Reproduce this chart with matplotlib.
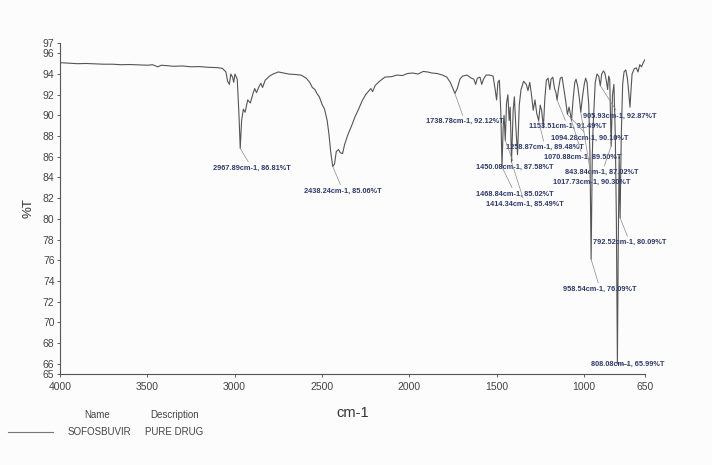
import matplotlib
matplotlib.use("Agg")
import matplotlib.pyplot as plt

plt.rcParams['font.family'] = ['Liberation Sans', 'DejaVu Sans']

# FTIR spectrum of the sample: wavenumber (cm-1) and transmittance (%T)
wavenumber = [
    4000, 3950, 3900, 3850, 3800, 3750, 3700, 3650, 3600, 3550, 3500, 3470, 3440, 3420,
    3380, 3350, 3300, 3250, 3200, 3150, 3100, 3070, 3050, 3040, 3030, 3022, 3012, 3005,
    2998, 2985, 2975, 2967.89, 2960, 2950, 2940, 2925, 2910, 2895, 2885, 2875, 2860, 2850,
    2840, 2825, 2800, 2780, 2750, 2720, 2690, 2650, 2620, 2590, 2570, 2555, 2540, 2528,
    2515, 2500, 2485, 2470, 2460, 2450, 2438.24, 2428, 2418, 2405, 2395, 2382, 2370, 2350,
    2330, 2310, 2290, 2270, 2250, 2235, 2220, 2210, 2195, 2170, 2140, 2100, 2070, 2040,
    2010, 1980, 1950, 1920, 1895, 1870, 1840, 1810, 1785, 1765, 1750, 1738.78, 1725, 1710,
    1695, 1670, 1645, 1630, 1620, 1610, 1595, 1585, 1575, 1560, 1540, 1520, 1508, 1500,
    1492, 1484, 1476, 1468.84, 1462, 1457, 1450.08, 1443, 1435, 1428, 1422, 1414.34, 1405,
    1398, 1390, 1380, 1370, 1360, 1345, 1330, 1320, 1310, 1300, 1290, 1280, 1270, 1258.87,
    1250, 1242, 1232, 1224, 1215, 1205, 1195, 1188, 1178, 1168, 1160, 1153.51, 1145, 1135,
    1125, 1115, 1105, 1094.28, 1085, 1078, 1070.88, 1062, 1052, 1045, 1035, 1025, 1017.73,
    1008, 998, 990, 982, 972, 965, 958.54, 952, 947, 935, 925, 915, 905.93, 898, 888, 880,
    870, 864, 858, 852, 843.84, 836, 828, 820, 814, 808.08, 803, 798, 792.52, 786, 778,
    770, 760, 750, 742, 736, 730, 724, 712, 700, 690, 680, 670, 660, 650,
]
transmittance = [
    95.10, 95.05, 95.00, 95.02, 94.98, 94.95, 94.95, 94.90, 94.92, 94.88, 94.85, 94.90, 94.70, 94.85,
    94.80, 94.75, 94.78, 94.70, 94.72, 94.65, 94.62, 94.55, 94.20, 93.30, 93.00, 94.00, 93.70, 93.20,
    94.00, 93.50, 90.00, 86.81, 89.50, 90.60, 90.30, 91.50, 91.20, 92.10, 92.60, 92.20, 92.80, 93.10,
    92.70, 93.40, 93.80, 94.00, 94.20, 94.10, 94.00, 93.95, 93.90, 93.60, 93.20, 92.70, 92.50, 92.10,
    91.80, 91.10, 90.60, 89.50, 88.20, 86.50, 85.06, 85.30, 86.50, 86.70, 86.40, 86.30, 87.20, 88.20,
    89.00, 89.90, 90.60, 91.40, 92.00, 92.30, 92.60, 92.30, 92.90, 93.30, 93.70, 93.75, 93.90, 93.85,
    94.05, 94.10, 94.00, 94.25, 94.20, 94.10, 94.05, 93.90, 93.70, 93.20, 92.60, 92.12, 92.60, 93.50,
    93.80, 93.90, 93.60, 93.50, 93.00, 93.60, 93.70, 93.00, 93.50, 93.90, 93.90, 93.80, 92.50, 91.50,
    93.20, 93.40, 90.50, 85.02, 89.00, 90.00, 87.58, 91.20, 92.00, 89.50, 90.80, 85.49, 90.50,
    91.80, 89.00, 86.20, 91.00, 92.50, 93.30, 93.00, 92.40, 93.20, 92.00, 90.50, 91.50, 90.20, 89.48,
    91.00, 90.50, 88.80, 91.50, 93.40, 93.60, 92.50, 93.50, 93.70, 92.60, 92.20, 91.49, 92.60, 93.60,
    93.70, 92.60, 91.50, 90.10, 90.80, 90.20, 89.50, 91.50, 93.20, 93.50, 92.80, 91.50, 90.30,
    91.80, 93.00, 93.60, 93.20, 91.00, 86.00, 76.09, 86.00, 89.00, 93.20, 94.00, 93.80, 92.87, 94.00, 94.30, 94.10,
    93.20, 92.50, 93.80, 93.50, 87.02, 92.00, 93.00, 88.00, 80.00, 65.99, 78.00, 86.00, 80.09, 88.00, 93.00,
    94.20, 94.40, 93.50, 92.00, 90.80, 92.50, 94.00, 94.50, 94.60, 94.20, 94.90, 94.70, 95.10, 95.40,
]

# Peak-pick annotations: (wavenumber, %T) of the band and where its label sits
peak_cm = [2967.89, 2438.24, 1738.78, 1153.51, 905.93, 1094.28, 1258.87, 1070.88,
           1450.08, 843.84, 1017.73, 1468.84, 1414.34, 792.52, 958.54, 808.08]
peak_t = [86.81, 85.06, 92.12, 91.49, 92.87, 90.10, 89.48, 89.50,
          87.58, 87.02, 90.30, 85.02, 85.49, 80.09, 76.09, 65.99]
label_cm = [2900, 2379, 1681, 1091, 793, 965, 1222, 1005,
            1394, 896, 953, 1394, 1337, 736, 907, 747]
label_t = [84.9, 82.7, 89.4, 88.9, 89.9, 87.8, 86.9, 85.9,
           85.0, 84.5, 83.5, 82.4, 81.4, 77.7, 73.2, 65.9]

x_ticks = [4000, 3500, 3000, 2500, 2000, 1500, 1000, 650]
y_ticks = [65, 66, 68, 70, 72, 74, 76, 78, 80, 82, 84, 86, 88, 90, 92, 94, 96, 97]

fig = plt.figure(figsize=(7.12, 4.65), dpi=100)
fig.patch.set_facecolor('#fcfcfc')
ax = fig.add_axes([60 / 712, 1 - 374 / 465, 585 / 712, 331 / 465])
ax.set_facecolor('#fcfcfc')

line, = ax.plot(wavenumber, transmittance, color='#555555', lw=0.8)

ax.set_xlim(4000, 650)
ax.set_ylim(65, 97)
ax.set_xticks(x_ticks)
ax.set_yticks(y_ticks)
ax.tick_params(axis='both', labelsize=7.5, colors='#444444', length=2.5, width=0.6)
ax.tick_params(axis='x', pad=3)
ax.tick_params(axis='y', pad=1.5)
for side in ('top', 'right'):
    ax.spines[side].set_visible(False)
for side in ('left', 'bottom'):
    ax.spines[side].set_color('#555555')
    ax.spines[side].set_linewidth(0.8)

ax.set_xlabel('cm-1', fontsize=10.5, color='#333333', labelpad=10)
ax.set_ylabel('%T', fontsize=9.5, color='#333333', labelpad=6)

for pc, pt, lc, lt in zip(peak_cm, peak_t, label_cm, label_t):
    ax.annotate(f'{pc:.2f}cm-1, {pt:.2f}%T', xy=(pc, pt), xytext=(lc, lt),
                textcoords='data', ha='center', va='center',
                fontsize=5.3, fontweight='bold', color='#2e3a6b',
                arrowprops=dict(arrowstyle='-', color='#8a8a8a', lw=0.5,
                                shrinkA=0, shrinkB=0))

# Sample legend under the plot
fig.text(97 / 712, 1 - 415 / 465, 'Name', ha='center', va='center', fontsize=7, color='#444444')
fig.text(175 / 712, 1 - 415 / 465, 'Description', ha='center', va='center', fontsize=7, color='#444444')
fig.lines.append(plt.Line2D([8 / 712, 53 / 712], [1 - 432 / 465, 1 - 432 / 465],
                            transform=fig.transFigure, color='#777777', lw=0.8))
fig.text(99 / 712, 1 - 432 / 465, 'SOFOSBUVIR', ha='center', va='center', fontsize=7, color='#444444')
fig.text(174 / 712, 1 - 432 / 465, 'PURE DRUG', ha='center', va='center', fontsize=7, color='#444444')

fig.savefig('out.png', dpi=100, facecolor=fig.get_facecolor())
